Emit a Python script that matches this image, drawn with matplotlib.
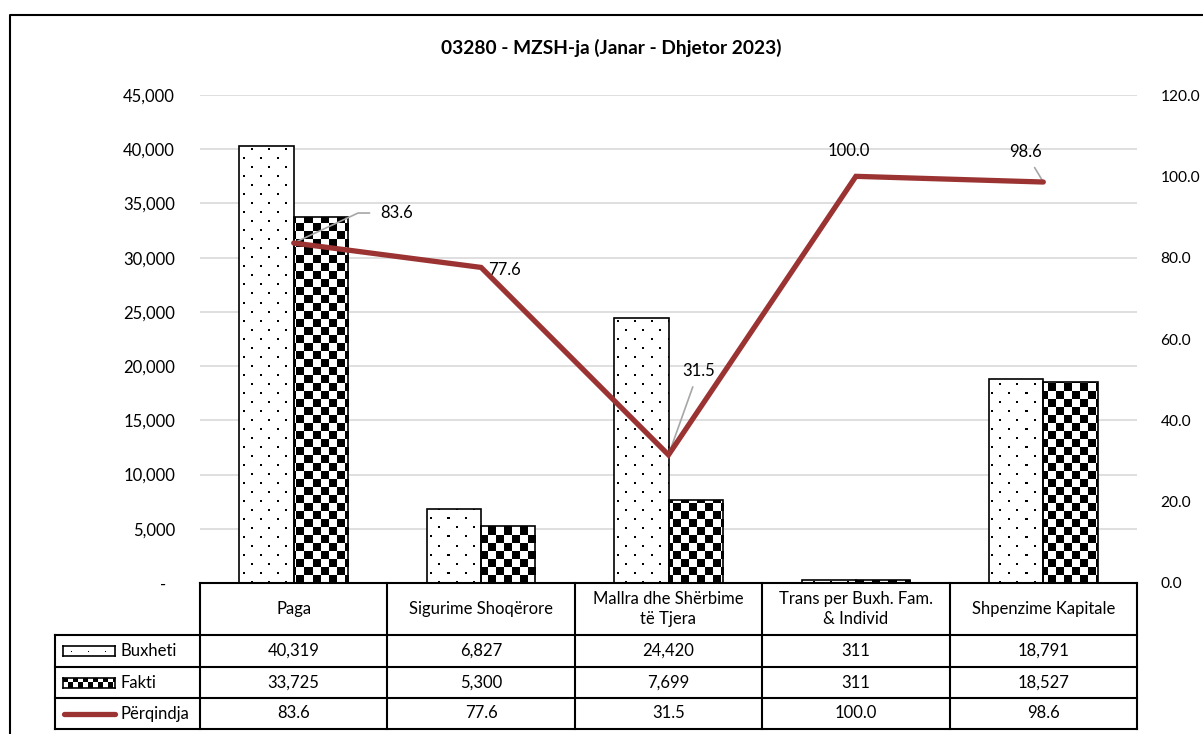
import numpy as np
import matplotlib
matplotlib.use('Agg')
import matplotlib.pyplot as plt
from matplotlib.lines import Line2D
from matplotlib.ticker import FuncFormatter

plt.rcParams['font.family'] = ['Lato', 'DejaVu Sans']

categories = ['Paga', 'Sigurime Shoqërore', 'Mallra dhe Shërbime\ntë Tjera',
              'Trans per Buxh. Fam.\n& Individ', 'Shpenzime Kapitale']
buxheti = [40319, 6827, 24420, 311, 18791]
fakti = [33725, 5300, 7699, 311, 18527]
perqindja = [83.6, 77.6, 31.5, 100.0, 98.6]
row_labels = ['Buxheti', 'Fakti', 'Përqindja']

W, H = 1203, 734
fig = plt.figure(figsize=(W / 100, H / 100), dpi=100)


def fx(x):
    return x / W


def fy(y):
    return 1 - y / H


red = '#9b3333'
fs = 12

# plot area in pixels
ax_l, ax_r, ax_t, ax_b = 200, 1137, 95, 583
ax = fig.add_axes([fx(ax_l), fy(ax_b), (ax_r - ax_l) / W, (ax_b - ax_t) / H])
ax.set_facecolor('none')

# fill textures (pixel sized)
pw, ph = ax_r - ax_l, ax_b - ax_t
ii, jj = np.mgrid[0:ph, 0:pw]
checker = (((ii // 8) + (jj // 8)) % 2).astype(float)
dots = np.ones((ph, pw))
dots[((ii % 18) < 2) & ((jj % 17) < 2)] = 0
dots[((ii % 18 >= 9) & (ii % 18 < 11)) & (((jj + 8) % 17) < 2)] = 0

x = np.arange(len(categories))
w = 0.29
extent = (-0.5, len(categories) - 0.5, 0, 45000)
for vals, off, tex in [(buxheti, -w / 2, dots), (fakti, w / 2, checker)]:
    bars = ax.bar(x + off, vals, w, facecolor='none', edgecolor='black', linewidth=1.2, zorder=3)
    for b in bars:
        im = ax.imshow(tex, extent=extent, aspect='auto', cmap='gray', vmin=0, vmax=1,
                       interpolation='nearest', zorder=2)
        im.set_clip_path(b)

ax.set_xlim(-0.5, len(categories) - 0.5)
ax.set_ylim(0, 45000)
ax.set_yticks(range(0, 45001, 5000))
ax.yaxis.set_major_formatter(FuncFormatter(lambda v, _: '-  ' if v == 0 else f'{v:,.0f}'))
ax.grid(axis='y', color='#d9d9d9', lw=1.2, zorder=0)
ax.set_axisbelow(True)
ax.set_xticks([])
ax.tick_params(axis='y', length=0, pad=18, labelsize=fs)
for s in ax.spines.values():
    s.set_visible(False)

# percentage line
ax2 = ax.twinx()
ax2.set_ylim(0, 120)
ax2.set_yticks(range(0, 121, 20))
ax2.yaxis.set_major_formatter(FuncFormatter(lambda v, _: f'{v:.1f}'))
ax2.tick_params(axis='y', length=0, pad=17, labelsize=11.2)
for s in ax2.spines.values():
    s.set_visible(False)
ax2.plot(x, perqindja, color=red, lw=3.8, solid_capstyle='round', solid_joinstyle='miter', zorder=4)

lead = dict(arrowstyle='-', color='#a6a6a6', lw=1.2, shrinkB=0)
ax2.annotate(f'{perqindja[0]:.1f}', (x[0], perqindja[0]), xytext=(87, 30), textcoords='offset pixels',
             ha='left', va='center', fontsize=fs,
             arrowprops=dict(lead, shrinkA=6, connectionstyle='angle,angleA=0,angleB=25,rad=0'))
ax2.annotate(f'{perqindja[1]:.1f}', (x[1], perqindja[1]), xytext=(7, -3), textcoords='offset pixels',
             ha='left', va='center', fontsize=fs)
ax2.annotate(f'{perqindja[2]:.1f}', (x[2], perqindja[2]), xytext=(30, 84), textcoords='offset pixels',
             ha='center', va='center', fontsize=fs, arrowprops=dict(lead, shrinkA=4))
ax2.annotate(f'{perqindja[3]:.1f}', (x[3], perqindja[3]), xytext=(-7, 25), textcoords='offset pixels',
             ha='center', va='center', fontsize=fs)
ax2.annotate(f'{perqindja[4]:.1f}', (x[4], perqindja[4]), xytext=(-18, 30), textcoords='offset pixels',
             ha='center', va='center', fontsize=fs, arrowprops=dict(lead, shrinkA=4))

# title and outer border
fig.text(fx(611), fy(48), '03280 - MZSH-ja (Janar - Dhjetor 2023)', ha='center', va='center',
         fontsize=13.8, fontweight='bold')
fig.add_artist(Line2D([fx(10), fx(10), 1.01], [-0.01, fy(15), fy(15)], transform=fig.transFigure,
                      color='black', lw=1.5))

# data table
col_x = np.linspace(ax_l, ax_r, len(categories) + 1)
row_y = [583, 635, 667, 698, 729]
lab_l = 55
tl = dict(transform=fig.transFigure, color='black', lw=1.5, solid_capstyle='projecting')
fig.add_artist(Line2D([fx(ax_l), fx(ax_r)], [fy(row_y[0])] * 2, **tl))
for yy in row_y[1:]:
    fig.add_artist(Line2D([fx(lab_l), fx(ax_r)], [fy(yy)] * 2, **tl))
for xx in col_x:
    fig.add_artist(Line2D([fx(xx)] * 2, [fy(row_y[0]), fy(row_y[-1])], **tl))
fig.add_artist(Line2D([fx(lab_l)] * 2, [fy(row_y[1]), fy(row_y[-1])], **tl))

cx = (col_x[:-1] + col_x[1:]) / 2
for c, name in zip(cx, categories):
    fig.text(fx(c), fy((row_y[0] + row_y[1]) / 2), name, ha='center', va='center', fontsize=fs,
             linespacing=1.3)
rows = [[f'{v:,}' for v in buxheti], [f'{v:,}' for v in fakti], [f'{v:.1f}' for v in perqindja]]
for r, vals in enumerate(rows):
    yc = (row_y[r + 1] + row_y[r + 2]) / 2
    for c, v in zip(cx, vals):
        fig.text(fx(c), fy(yc), v, ha='center', va='center', fontsize=fs)
    fig.text(fx(120), fy(yc), row_labels[r], ha='left', va='center', fontsize=fs)

# legend keys in the row labels
for r, tex in enumerate(['dots', 'checker']):
    yc = (row_y[r + 1] + row_y[r + 2]) / 2
    kax = fig.add_axes([fx(63), fy(yc + 5), 52 / W, 10 / H])
    ki, kj = np.mgrid[0:10, 0:52]
    if tex == 'dots':
        key = np.ones((10, 52))
        key[(ki == 5) & (kj % 17 == 8)] = 0
    else:
        key = (((ki // 5) + (kj // 5)) % 2).astype(float)
    kax.imshow(key, cmap='gray', vmin=0, vmax=1, aspect='auto', interpolation='nearest')
    kax.set_xticks([])
    kax.set_yticks([])
    for s in kax.spines.values():
        s.set_linewidth(1.2)
yc = (row_y[3] + row_y[4]) / 2
fig.add_artist(Line2D([fx(64), fx(115)], [fy(yc)] * 2, transform=fig.transFigure, color=red,
                      lw=3.8, solid_capstyle='round'))

fig.savefig('out.png', dpi=100)
